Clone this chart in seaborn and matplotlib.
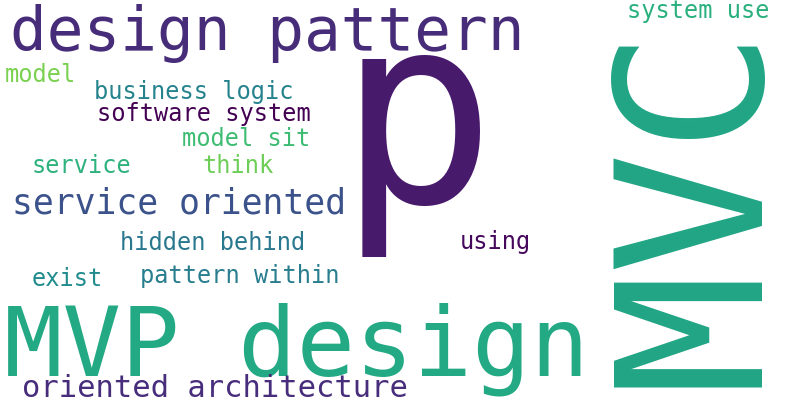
import matplotlib
matplotlib.use("Agg")
import matplotlib.pyplot as plt
import seaborn as sns

sns.set_theme(style="white")
plt.rcParams["font.family"] = ["DejaVu Sans Mono", "DejaVu Sans"]

# -- word cloud content ---------------------------------------------------------
words = ["design pattern", "p", "MVC", "system use", "model", "business logic",
         "software system", "model sit", "service", "think", "service oriented",
         "hidden behind", "using", "exist", "pattern within", "MVP design",
         "oriented architecture"]
colors = ["#472c7a", "#481a6c", "#21a585", "#2ab07f", "#7ad151", "#25838e",
          "#440154", "#3fbc73", "#2db27d", "#6ece58", "#3b528b",
          "#2a788e", "#46085c", "#228c8d", "#287d8e", "#23a983", "#472d7b"]

# -- layout (pixel baseline anchor, font size in pt, rotation) -------------------
xs = [10, 338, 755, 627, 5, 94, 97, 182, 32, 202, 12, 120, 460, 32, 140, 4, 22]
ys = [50, 202, 387, 18, 82, 99, 121, 146, 173, 173, 213, 250, 249, 286, 283, 375, 397]
sizes = [44, 189, 146, 17, 17, 17, 17, 17, 17, 17, 25, 17, 17, 17, 17, 70, 22]
rots = [0, 0, 90] + [0] * 14

fig = plt.figure(figsize=(8, 4), dpi=100)
ax = fig.add_axes([0, 0, 1, 1])
ax.set_xlim(0, 800)
ax.set_ylim(400, 0)
ax.axis("off")

for w, c, x, y, s, r in zip(words, colors, xs, ys, sizes, rots):
    ax.text(x, y, w, color=c, fontsize=s, rotation=r, rotation_mode="anchor",
            ha="left", va="baseline")

fig.savefig("out.png", dpi=100, facecolor="white")
